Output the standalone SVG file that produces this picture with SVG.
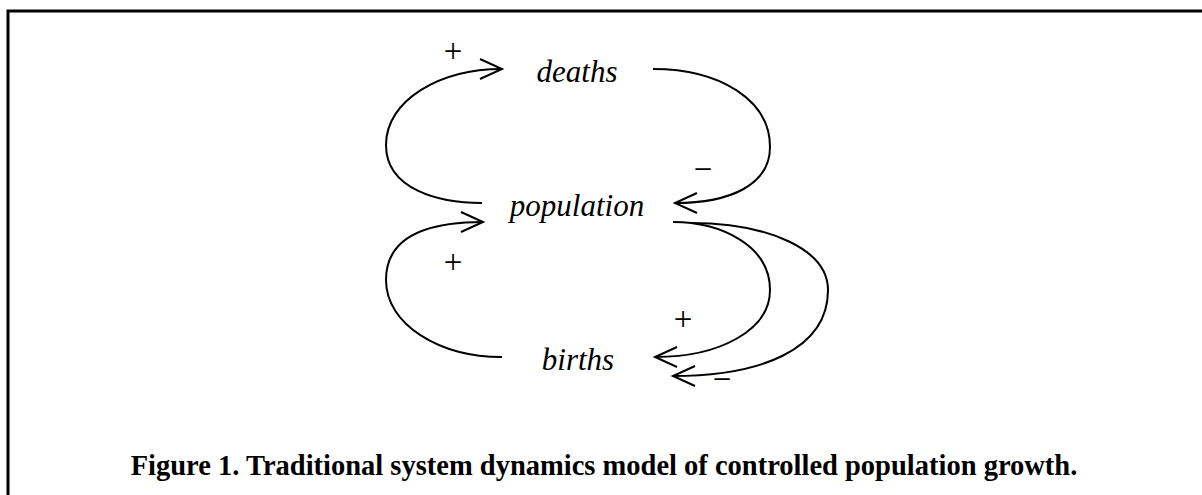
<svg xmlns="http://www.w3.org/2000/svg" width="1202" height="495" viewBox="0 0 1202 495">
<style>
.node{font-family:"Liberation Serif","Times New Roman",serif;font-style:italic;font-size:31px;fill:#000;text-anchor:middle}
.sign{font-family:"Liberation Serif","Times New Roman",serif;font-size:33px;fill:#000;text-anchor:middle}
.cap{font-family:"Liberation Serif","Times New Roman",serif;font-weight:bold;font-size:28.5px;fill:#000;text-anchor:middle}
.link{fill:none;stroke:#000;stroke-width:2;marker-end:url(#open)}
</style>
<defs>
<marker id="open" markerUnits="userSpaceOnUse" markerWidth="30" markerHeight="30" viewBox="-25 -15 30 30" refX="0" refY="0" orient="auto" overflow="visible">
<path d="M-22,-10 L0,0 L-22,10" fill="none" stroke="#000" stroke-width="2"/>
</marker>
</defs>
<rect x="8" y="11" width="1210" height="520" fill="#fff" stroke="#000" stroke-width="3"/>
<g id="connectors">
<path class="link" d="M482,203 C440,203 386,190 386,145 C386,100 440,69 502,69"/>
<path class="link" d="M653,69 C720,69 770,100 770,147 C770,185 730,203 675,203"/>
<path class="link" d="M502,357 C440,357 386,325 386,280 C386,240 420,222 483,222"/>
<path class="link" d="M673,222 C720,222 770,245 770,290 C770,330 720,357 655,357"/>
<path class="link" d="M690,223 C770,223 828,250 828,290 C828,350 760,376 673,376"/>
</g>
<g id="signs">
<text class="sign" x="453" y="62">+</text>
<text class="sign" x="703" y="180">−</text>
<text class="sign" x="453" y="273">+</text>
<text class="sign" x="683" y="330">+</text>
<text class="sign" x="722" y="390">−</text>
</g>
<g id="deaths"><text class="node" x="577" y="82">deaths</text></g>
<g id="population"><text class="node" x="577" y="216">population</text></g>
<g id="births"><text class="node" x="578" y="370">births</text></g>
<g id="caption"><text class="cap" x="604" y="475">Figure 1. Traditional system dynamics model of controlled population growth.</text></g>
</svg>
